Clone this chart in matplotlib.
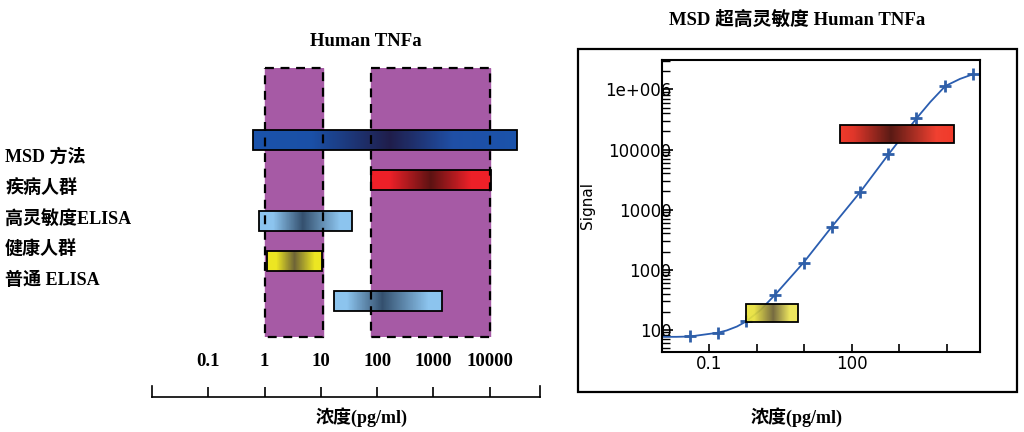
import matplotlib
matplotlib.use("Agg")
import matplotlib.pyplot as plt
from matplotlib.colors import LinearSegmentedColormap
from matplotlib.patches import Rectangle
import numpy as np

# left panel: detection ranges (pg/ml), rows top -> bottom
ROW_LABELS = ["MSD 方法", "疾病人群", "高灵敏度ELISA", "健康人群", "普通 ELISA"]
BAR_LO = [0.63, 78, 0.8, 1.1, 17]
BAR_HI = [30000, 10400, 36, 10.5, 1400]
REGION_LO = [1.0, 78]
REGION_HI = [11.0, 10000]
SCALE_TICKS = [0.1, 1, 10, 100, 1000, 10000]
SCALE_LABELS = ["0.1", "1", "10", "100", "1000", "10000"]

# right panel: standard curve
STD_CONC = [0.039, 0.15, 0.59, 2.4, 9.6, 38, 150, 590, 2300, 9300, 36000]
STD_SIGNAL = [77, 89, 137, 380, 1310, 5200, 19600, 83000, 330000, 1140000, 1800000]
CURVE_X = [0.01, 0.02, 0.039, 0.15, 0.23, 0.38, 0.59, 1.17, 2.4, 9.6, 38, 150,
           590, 2300, 4500, 9300, 19000, 36000]
CURVE_Y = [76, 76, 77, 89, 97, 113, 137, 210, 380, 1310, 5200, 19600,
           83000, 330000, 620000, 1140000, 1500000, 1800000]
Y_TICKS = [100, 1000, 10000, 100000, 1000000]
Y_LABELS = ["100", "1000", "10000", "100000", "1e+006"]
X_TICKS = [0.1, 1, 10, 100, 1000, 10000]
X_LABELS = ["0.1", "", "", "100", "", ""]
YELLOW_BOX = (0.6, 7.3, 134, 270)      # x0, x1, y0, y1
RED_BOX = (55, 14000, 129000, 255000)

PURPLE = "#a65aa5"
LIGHT = ["#8cc4ee", "#8cc4ee", "#34506e", "#8cc4ee", "#8cc4ee"]
STOPS = [
    ([0, 0.22, 0.52, 0.76, 1], ["#1a52aa", "#1a50a6", "#1f1d4a", "#1f4fa6", "#1a52aa"]),
    ([0, 0.15, 0.5, 0.84, 1], ["#ee2028", "#ee2028", "#5c1212", "#ee2028", "#ee2028"]),
    ([0, 0.15, 0.47, 0.87, 1], LIGHT),
    ([0, 0.17, 0.5, 0.87, 1], ["#ece622", "#ece622", "#6e6436", "#ece622", "#ece622"]),
    ([0, 0.12, 0.45, 0.88, 1], LIGHT),
]

SERIF = ["Liberation Serif", "Noto Sans CJK SC"]


def gradient_box(ax, x0, x1, y0, y1, pos, colors, z=3, alpha=1.0):
    # log-spaced edges so the gradient runs evenly across the box on a log axis
    cmap = LinearSegmentedColormap.from_list("g", list(zip(pos, colors)))
    xe = np.geomspace(x0, x1, 257)
    ye = [min(y0, y1), max(y0, y1)]
    c = np.linspace(0, 1, 256)[None, :]
    ax.pcolormesh(xe, ye, c, cmap=cmap, vmin=0, vmax=1, zorder=z, alpha=alpha,
                  shading="flat", linewidth=0, antialiased=False, rasterized=False)
    ax.add_patch(Rectangle((x0, min(y0, y1)), x1 - x0, abs(y1 - y0), fill=False,
                           edgecolor="black", linewidth=1.3, zorder=z + 0.1))


fig = plt.figure(figsize=(10.24, 4.32), dpi=100)

# ---- left panel
ax = fig.add_axes([0.1484, 0.2199, 0.3789, 0.6227])
ax.set_xscale("log")
ax.set_xlim(0.01, 78000)
ax.set_ylim(4.89, -1.79)
ax.axis("off")
for lo, hi in zip(REGION_LO, REGION_HI):
    ax.axvspan(lo, hi, color=PURPLE, zorder=1)
    ax.add_patch(Rectangle((lo, -1.79), hi - lo, 4.89 + 1.79, fill=False,
                           edgecolor="black", linestyle=(0, (4, 3)), linewidth=1.6,
                           zorder=6, clip_on=False))
for i, (lo, hi) in enumerate(zip(BAR_LO, BAR_HI)):
    pos, cols = STOPS[i]
    gradient_box(ax, lo, hi, i + 0.25, i - 0.25, pos, cols)

for i, lab in enumerate(ROW_LABELS):
    fig.text(0.005, 1 - (157 + 30.8 * i) / 432, lab, family=SERIF, weight="bold",
             fontsize=13, va="center", ha="left")
fig.text(366 / 1024, 1 - 41 / 432, "Human TNFa", family=SERIF, weight="bold",
         fontsize=13.5, ha="center", va="center")

sax = fig.add_axes([0.1484, 0.081, 0.3789, 0.0255])
sax.set_xscale("log")
sax.set_xlim(0.01, 78000)
sax.set_yticks([])
sax.spines["top"].set_visible(False)
sax.set_xticks(SCALE_TICKS, SCALE_LABELS)
sax.xaxis.set_minor_locator(matplotlib.ticker.NullLocator())
sax.tick_params(axis="x", direction="in", length=7, width=1.2, pad=-32)
for t in sax.get_xticklabels():
    t.set_family(SERIF)
    t.set_weight("bold")
    t.set_fontsize(13.5)
for s in sax.spines.values():
    s.set_linewidth(1.2)
fig.text(362 / 1024, 1 - 417 / 432, "浓度(pg/ml)", family=SERIF, weight="bold",
         fontsize=13, ha="center", va="center")

# ---- right panel
fig.add_artist(Rectangle((0.5645, 0.0926), 0.4287, 0.794, transform=fig.transFigure,
                         fill=False, edgecolor="black", linewidth=1.6))
rax = fig.add_axes([0.6465, 0.1852, 0.3105, 0.676])
rax.set_xscale("log")
rax.set_yscale("log")
rax.set_xlim(0.01, 50000)
rax.set_ylim(42.5, 3.1e6)
rax.plot(CURVE_X, CURVE_Y, color="#2a5db0", linewidth=1.3, zorder=2)
rax.plot(STD_CONC, STD_SIGNAL, linestyle="none", marker="+", markersize=9,
         markeredgewidth=2, color="#2f5fa8", zorder=2)
x0, x1, y0, y1 = YELLOW_BOX
gradient_box(rax, x0, x1, y0, y1, [0, 0.15, 0.52, 0.85, 1],
             ["#ece43a", "#e8e03a", "#6a5e30", "#ece450", "#ece450"], z=3, alpha=0.92)
x0, x1, y0, y1 = RED_BOX
gradient_box(rax, x0, x1, y0, y1, [0, 0.12, 0.45, 0.85, 1],
             ["#f03a2a", "#e0362a", "#5a1a14", "#f04030", "#f03a2a"], z=3)
rax.set_yticks(Y_TICKS, Y_LABELS)
rax.set_xticks(X_TICKS, X_LABELS)
rax.xaxis.set_minor_locator(matplotlib.ticker.NullLocator())
rax.tick_params(axis="y", which="major", direction="in", length=8, width=1.2, pad=-7,
                labelsize=12)
rax.tick_params(axis="y", which="minor", direction="in", length=6, width=1.0)
rax.tick_params(axis="x", direction="in", length=6, width=1.2, pad=2, labelsize=12)
for s in rax.spines.values():
    s.set_linewidth(1.5)
rax.set_ylabel("Signal", fontsize=11)
rax.yaxis.set_label_coords(-0.21, 0.5)
fig.text(797 / 1024, 1 - 20 / 432, "MSD 超高灵敏度 Human TNFa", family=SERIF,
         weight="bold", fontsize=13.5, ha="center", va="center")
fig.text(797 / 1024, 1 - 417 / 432, "浓度(pg/ml)", family=SERIF, weight="bold",
         fontsize=13, ha="center", va="center")

fig.savefig("out.png", dpi=100)
